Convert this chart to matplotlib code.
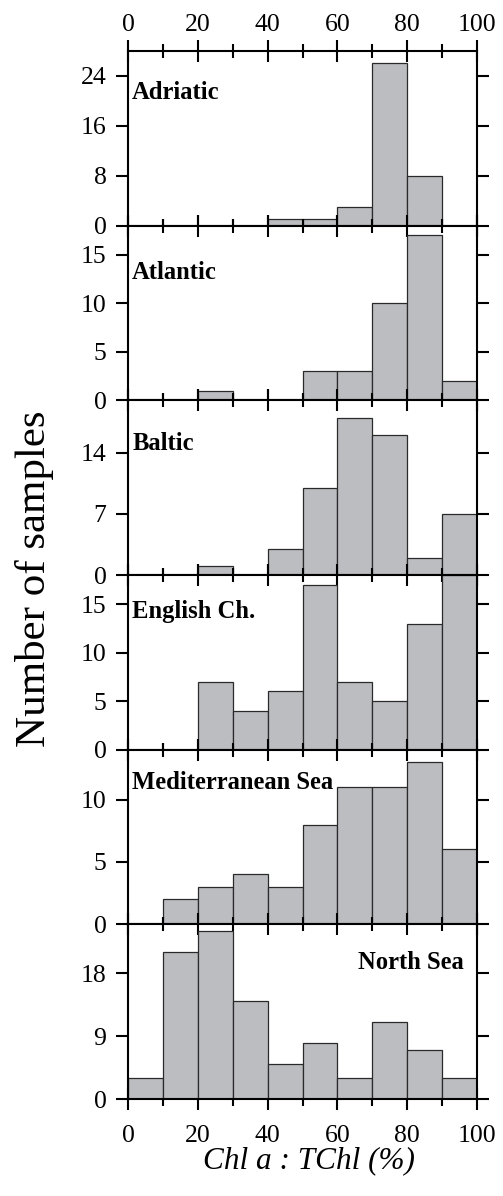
import numpy as np
import matplotlib
matplotlib.use("Agg")
import matplotlib.pyplot as plt
from matplotlib.ticker import MultipleLocator

plt.rcParams["font.family"] = ["Liberation Serif", "DejaVu Serif"]

# histogram data: counts per 10 % bin of Chl a : TChl
bin_edges = np.arange(0, 101, 10)
regions = ["Adriatic", "Atlantic", "Baltic", "English Ch.", "Mediterranean Sea", "North Sea"]
adriatic = [0, 0, 0, 0, 1, 1, 3, 26, 8, 0]
atlantic = [0, 0, 1, 0, 0, 3, 3, 10, 17, 2]
baltic = [0, 0, 1, 0, 3, 10, 18, 16, 2, 7]
english = [0, 0, 7, 4, 6, 17, 7, 5, 13, 18]
mediterranean = [0, 2, 3, 4, 3, 8, 11, 11, 13, 6]
north_sea = [3, 21, 24, 14, 5, 8, 3, 11, 7, 3]
counts = [adriatic, atlantic, baltic, english, mediterranean, north_sea]

y_ticks = [[0, 8, 16, 24], [0, 5, 10, 15], [0, 7, 14], [0, 5, 10, 15], [0, 5, 10], [0, 9, 18]]
y_max = [28, 18, 20, 18, 14, 25]
x_ticks = [0, 20, 40, 60, 80, 100]

bar_color = "#bcbdc1"
edge_color = "#2a2a2a"

fig = plt.figure(figsize=(5.03, 11.96), dpi=100)

left, width = 128 / 503, 349 / 503
top, bottom = 1 - 51 / 1196, 1 - 1099 / 1196
h = (top - bottom) / 6

axes = []
for i, (name, c) in enumerate(zip(regions, counts)):
    ax = fig.add_axes([left, top - (i + 1) * h, width, h])
    axes.append(ax)
    ax.bar(bin_edges[:-1], c, width=10, align="edge", color=bar_color,
           edgecolor=edge_color, linewidth=0.9, zorder=2)
    ax.set_xlim(0, 100)
    ax.set_ylim(0, y_max[i])
    ax.set_yticks(y_ticks[i])
    ax.set_xticks(x_ticks)
    ax.xaxis.set_minor_locator(MultipleLocator(10))

    for s in ax.spines.values():
        s.set_linewidth(1.5)
        s.set_zorder(3)

    ax.tick_params(axis="y", which="major", direction="out", length=8.5, width=1.5,
                   left=True, right=True, labelleft=True, labelright=False,
                   labelsize=18.5, pad=7)
    ax.tick_params(axis="x", which="major", direction="inout", length=15.5, width=1.5,
                   top=True, bottom=True, labeltop=(i == 0), labelbottom=(i == 5),
                   labelsize=18.5)
    ax.tick_params(axis="x", which="minor", direction="inout", length=9.5, width=1.5,
                   top=True, bottom=True)
    if i == 0:
        ax.tick_params(axis="x", which="major", pad=3)
    if i == 5:
        ax.tick_params(axis="x", which="major", pad=11)

    if name == "North Sea":
        ax.text(0.962, 0.78, name, transform=ax.transAxes, ha="right", va="center",
                fontsize=17.7, fontweight="bold", zorder=4)
    else:
        ypos = [0.76, 0.73, 0.75, 0.79, 0.81][i]
        ax.text(0.012, ypos, name, transform=ax.transAxes, ha="left", va="center",
                fontsize=17.7, fontweight="bold", zorder=4)

fig.text(309 / 503, 1 - 1161 / 1196, "Chl a : TChl (%)", ha="center", va="center",
         fontsize=22.5, style="italic")
fig.text(35 / 503, 1 - 579 / 1196, "Number of samples", ha="center", va="center",
         rotation=90, fontsize=31)

fig.savefig("out.png", dpi=100)
